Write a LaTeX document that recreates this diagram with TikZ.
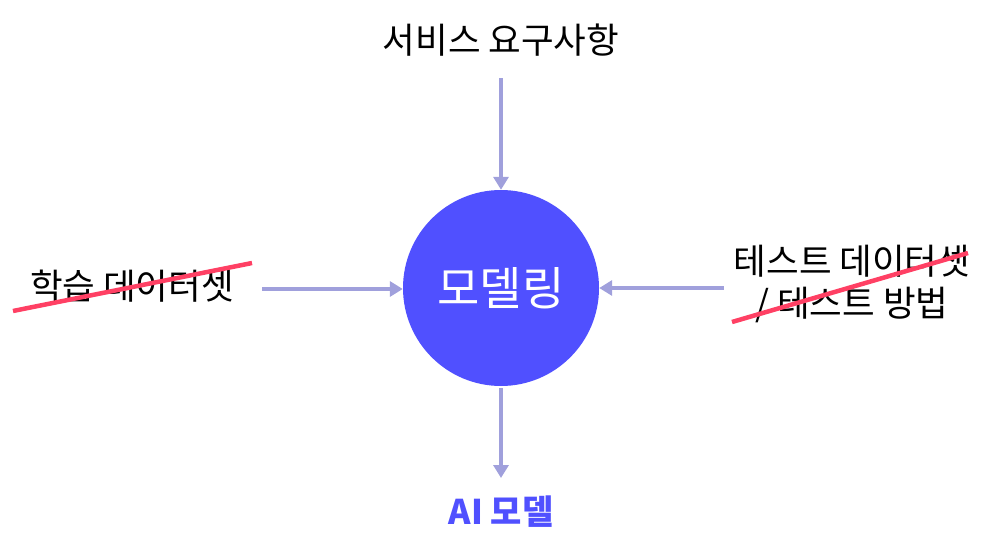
\documentclass[tikz,border=0pt]{standalone}
\usepackage{fontspec}
\newfontfamily\kr{Noto Sans CJK KR}
\usetikzlibrary{arrows.meta}
\definecolor{mainblue}{RGB}{80,80,255}
\definecolor{arrowc}{RGB}{160,160,220}
\definecolor{strike}{RGB}{255,64,100}
\begin{document}
\begin{tikzpicture}[x=1pt,y=-1pt,
  lbl/.style={font=\kr\fontsize{35.5}{42}\selectfont, text=black, inner sep=0pt, align=center},
  conn/.style={draw=arrowc, line width=3.8pt, -{Triangle[length=13pt,width=15pt]}},
  strikeline/.style={draw=strike, line width=4.5pt}]
\useasboundingbox (0,0) rectangle (998,535);
\node[circle, fill=mainblue, minimum size=196pt, inner sep=0pt,
  font=\kr\fontsize{46}{50}\selectfont, text=white] (model) at (501,288) {모델링};
\node[lbl] (svc) at (501,40) {서비스 요구사항};
\node[lbl] (train) at (132,286) {학습 데이터셋};
\node[lbl] (test) at (852,284) {테스트 데이터셋\\/ 테스트 방법};
\node[inner sep=0pt, font=\kr\bfseries\fontsize{34}{38}\selectfont, text=mainblue] (ai) at (501,512) {AI 모델};
\coordinate (svcend) at (501,78);
\coordinate (trainend) at (262,289);
\coordinate (testend) at (724,288);
\coordinate (modbot) at (501,388);
\draw[conn] (svcend) -- (model.north);
\draw[conn] (trainend) -- (model.west |- trainend);
\draw[conn] (testend) -- (model.east |- testend);
\draw[conn] (modbot) -- (501,478) coordinate (aitop);
\coordinate (s1a) at (13,311);
\coordinate (s1b) at (252,263);
\coordinate (s2a) at (732,322);
\coordinate (s2b) at (968,253);
\draw[strikeline] (s1a) -- (s1b);
\draw[strikeline] (s2a) -- (s2b);
\end{tikzpicture}
\end{document}
